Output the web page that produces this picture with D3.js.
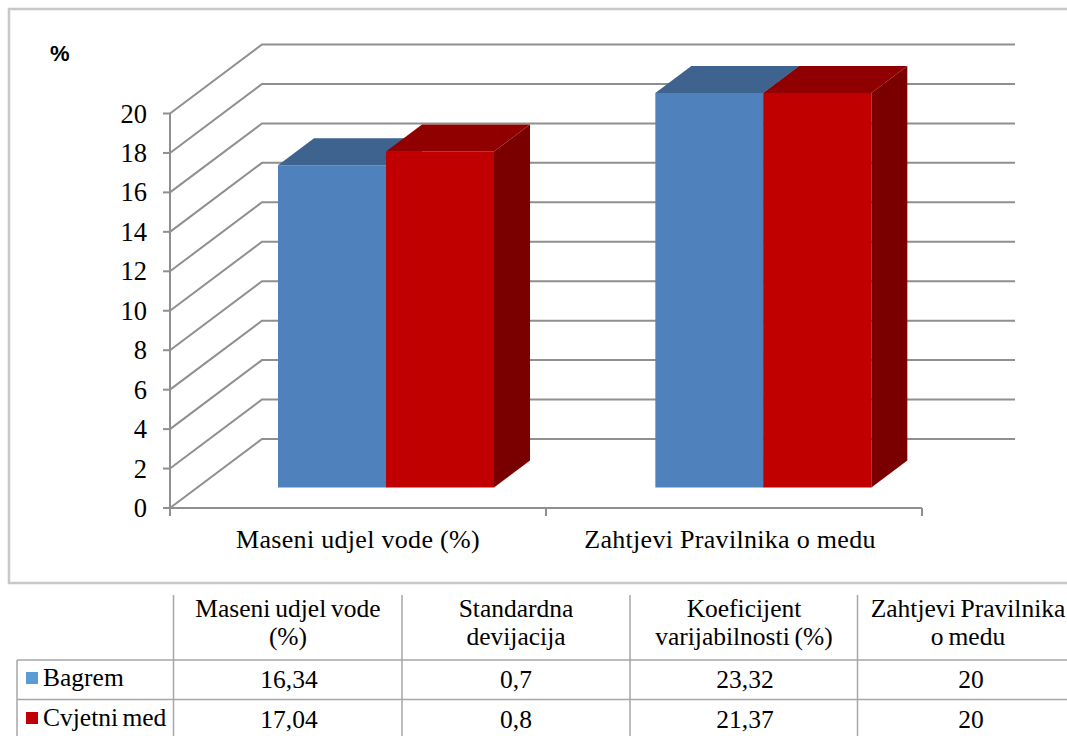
<!DOCTYPE html>
<html><head><meta charset="utf-8">
<script src="https://cdn.jsdelivr.net/npm/d3@7"></script>
<style>html,body{margin:0;padding:0;background:#fff;overflow:hidden}svg{display:block}text{font-family:"Liberation Serif",serif;fill:#000}</style>
</head><body><svg id="c" width="1067" height="736"></svg>
<script>
const categories = ["Maseni udjel vode (%)", "Zahtjevi Pravilnika o medu"];
const seriesNames = ["Bagrem", "Cvjetni med"];
const bagrem = [16.34, 20];
const cvjetniMed = [17.04, 20];
const yTicks = [0,2,4,6,8,10,12,14,16,18,20];
const tableHeaders = [["Maseni udjel vode","(%)"],["Standardna","devijacija"],["Koeficijent","varijabilnosti (%)"],["Zahtjevi Pravilnika","o medu"]];
const tableBagrem = ["16,34","0,7","23,32","20"];
const tableCvjetni = ["17,04","0,8","21,37","20"];

const svg = d3.select("#c");
const gridColor = "#8f8f8f";
svg.append("rect").attr("x",9).attr("y",9).attr("width",1070).attr("height",574)
  .attr("fill","#fff").attr("stroke","#c8c8c8").attr("stroke-width",2.5);

const y = d3.scaleLinear().domain([0,20]).range([508,113.5]);
const x0 = d3.scaleBand().domain(categories).range([170,922]);
const xBars = d3.scaleBand().domain(categories).range([197.35,952]);
const xLabels = d3.scaleBand().domain(categories).range([172,916]);
const wall = {dx:92, dy:-69, right:1015};
const barOffY = -20.5, depth = {dx:36, dy:-27};

const line = d3.line();
svg.append("g").selectAll("path").data(yTicks).join("path")
  .attr("d", t => line([[x0.range()[0],y(t)],[x0.range()[0]+wall.dx,y(t)+wall.dy],[wall.right,y(t)+wall.dy]]))
  .attr("fill","none").attr("stroke",gridColor).attr("stroke-width",2);

const ax = svg.append("g").attr("stroke",gridColor).attr("stroke-width",2).attr("fill","none");
ax.append("path").attr("d",line([[170,y(20)],[170,516]]));
ax.append("path").attr("d",line([[170,y(0)],[922,y(0)]]));
ax.selectAll(".yt").data(yTicks).join("path").attr("class","yt").attr("d",t=>line([[163,y(t)],[170,y(t)]]));
const xEdges = [x0(categories[0]), x0(categories[1]), x0(categories[1])+x0.bandwidth()];
ax.selectAll(".xt").data(xEdges).join("path").attr("class","xt").attr("d",v=>line([[v,508],[v,516]]));

svg.append("g").selectAll("text").data(yTicks).join("text")
  .attr("x",147).attr("y",t=>y(t)+9).attr("text-anchor","end").attr("font-size",26.5).text(d=>d);
svg.append("g").selectAll("text").data(categories).join("text")
  .attr("x",c=>xLabels(c)+xLabels.bandwidth()/2).attr("y",548).attr("text-anchor","middle")
  .attr("font-size",26).attr("letter-spacing",0.3).text(d=>d);
svg.append("text").text("%").attr("x",50).attr("y",61).style("font-family","Liberation Sans").attr("font-weight","bold").attr("font-size",22);

const palettes = [{front:"#4f81bd",top:"#3e638f",side:"#335273"},{front:"#c00000",top:"#900000",side:"#7a0000"}];
const barW = 108;
const series = [bagrem, cvjetniMed];
const y0 = y(0)+barOffY;
const barY = v => y(v)+barOffY;
const bars = svg.append("g");
categories.forEach((c,i)=>{
  const cx = xBars(c)+xBars.bandwidth()/2;
  series.forEach((s,k)=>{
    const l = cx-barW+k*barW, r = l+barW, t = barY(s[i]);
    const p = palettes[k], g = bars.append("g");
    g.append("path").attr("fill",p.side).attr("d",line([[r,t],[r+depth.dx,t+depth.dy],[r+depth.dx,y0+depth.dy],[r,y0]])+"Z");
    g.append("path").attr("fill",p.top).attr("d",line([[l,t],[l+depth.dx,t+depth.dy],[r+depth.dx,t+depth.dy],[r,t]])+"Z");
    g.append("rect").attr("x",l).attr("y",t).attr("width",barW).attr("height",y0-t).attr("fill",p.front);
  });
});

const tbl = svg.append("g");
const colX = [173.5,402,630,857.5];
const colC = [288,516,744,968];
const valC = [289,516,745,971];
const rowY = [660,699.5];
const tc = "#a6a6a6";
tbl.selectAll(".v").data(colX).join("line").attr("class","v").attr("x1",d=>d).attr("x2",d=>d).attr("y1",595).attr("y2",736).attr("stroke",tc).attr("stroke-width",1.5);
tbl.selectAll(".h").data(rowY).join("line").attr("class","h").attr("x1",17).attr("x2",1067).attr("y1",d=>d).attr("y2",d=>d).attr("stroke",tc).attr("stroke-width",1.5);
tbl.append("line").attr("x1",17).attr("x2",17).attr("y1",660).attr("y2",736).attr("stroke",tc).attr("stroke-width",1.5);
tableHeaders.forEach((h,i)=>h.forEach((t,j)=>{
  tbl.append("text").attr("x",colC[i]).attr("y",617+j*28).attr("text-anchor","middle").attr("font-size",25.5).attr("word-spacing",-1.5).text(t);
}));
[tableBagrem,tableCvjetni].forEach((r,k)=>{
  r.forEach((t,i)=>tbl.append("text").attr("x",valC[i]).attr("y",688+k*39.5).attr("text-anchor","middle").attr("font-size",25.5).text(t));
  tbl.append("rect").attr("x",26).attr("y",672+k*40).attr("width",12).attr("height",12).attr("fill",["#5b9bd5","#c00000"][k]);
  tbl.append("text").attr("x",43).attr("y",686+k*39.5).attr("font-size",25.5).attr("word-spacing",-2).text(seriesNames[k]);
});
</script></body></html>
